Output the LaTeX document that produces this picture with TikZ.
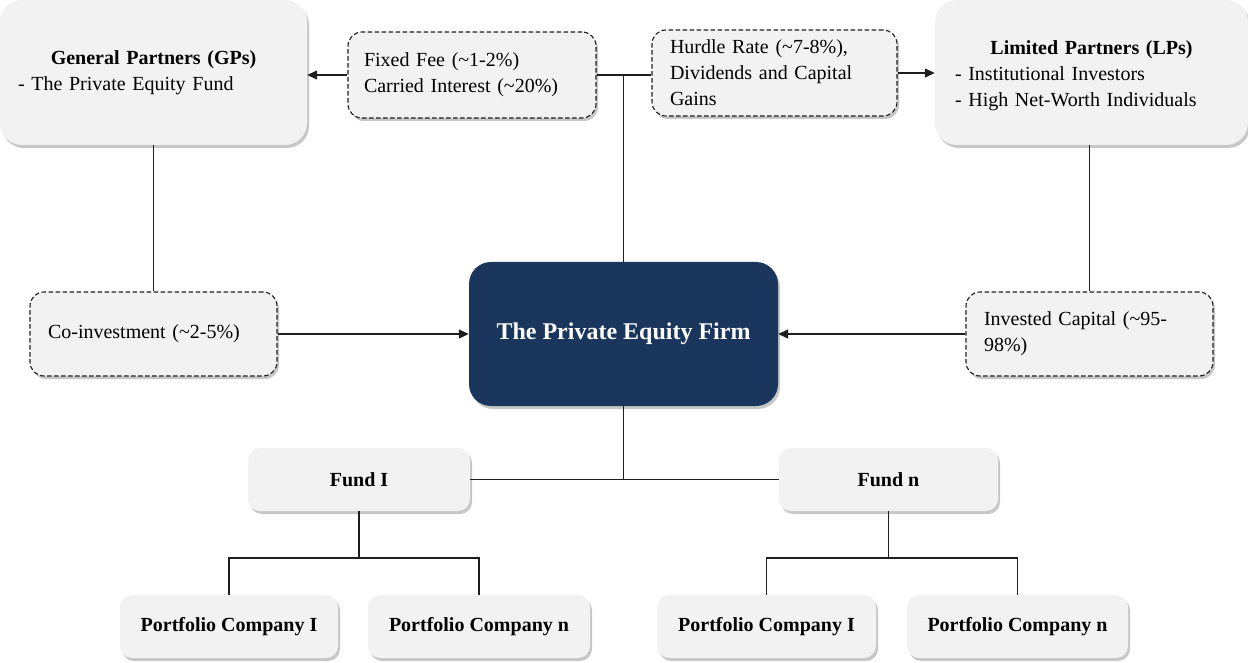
\documentclass[tikz,border=0pt]{standalone}
\usepackage{fontspec}
\setmainfont{Liberation Serif}
\usetikzlibrary{arrows.meta,shadows}
\definecolor{boxgray}{HTML}{F2F2F2}
\definecolor{navy}{HTML}{1A365D}
\definecolor{linec}{HTML}{1E1E1E}
\begin{document}
\begin{tikzpicture}[x=1pt,y=-1pt,
  shad/.style={drop shadow={shadow xshift=2pt,shadow yshift=-3pt,fill=black,opacity=0.22}},
  bigbox/.style={shad,fill=boxgray,rounded corners=22pt,inner sep=0pt,align=left,
     font=\fontsize{20}{26}\selectfont},
  dashbox/.style={shad,fill=boxgray,draw=linec,line width=1.1pt,dash pattern=on 4.5pt off 2.5pt,
     rounded corners=14pt,inner ysep=0pt,align=left,font=\fontsize{20}{26}\selectfont},
  smallbox/.style={shad,fill=boxgray,rounded corners=12pt,minimum height=63pt,inner sep=0pt,
     font=\fontsize{20}{26}\selectfont\bfseries},
  firmbox/.style={shad,fill=navy,rounded corners=22pt,minimum width=309pt,minimum height=144pt,
     text=white,font=\fontsize{24}{30}\selectfont\bfseries},
  conn/.style={draw=linec,line width=1.3pt},
  arr/.style={conn,-{Triangle[length=10pt,width=9pt]}}]
\useasboundingbox (0,0) rectangle (1248,663);

% top big boxes
\node[bigbox,minimum width=307pt,minimum height=145pt,text width=271pt] (gp) at (153.5,72.5)
  {\makebox[271pt][c]{\bfseries General Partners (GPs)}\\- The Private Equity Fund};
\node[bigbox,minimum width=313pt,minimum height=145pt,text width=273pt] (lp) at (1091.5,72.5)
  {\rule{0pt}{20pt}\makebox[273pt][c]{\bfseries Limited Partners (LPs)}\\- Institutional Investors\\- High Net-Worth Individuals};

% dashed label boxes
\node[dashbox,minimum width=248pt,minimum height=86pt,text width=216pt,inner xsep=16pt] (ff) at (472,75)
  {Fixed Fee (\textasciitilde1-2\%)\\Carried Interest (\textasciitilde20\%)};
\node[dashbox,minimum width=245pt,minimum height=86pt,text width=209pt,inner xsep=18pt] (hr) at (774.5,73)
  {Hurdle Rate (\textasciitilde7-8\%),\\Dividends and Capital\\Gains};
\node[dashbox,minimum width=247pt,minimum height=84pt,text width=211pt,inner xsep=18pt] (co) at (153.5,334)
  {Co-investment (\textasciitilde2-5\%)};
\node[dashbox,minimum width=247pt,minimum height=84pt,text width=211pt,inner xsep=18pt] (ic) at (1089.5,334)
  {Invested Capital (\textasciitilde95-\\98\%)};

% firm
\node[firmbox] (firm) at (623.5,334) {The Private Equity Firm};

% funds
\node[smallbox,minimum width=222pt] (f1) at (359,479.5) {Fund I};
\node[smallbox,minimum width=219pt] (fn) at (888.5,479.5) {Fund n};

% portfolio companies
\node[smallbox,minimum width=218pt] (p1) at (229,626.5) {Portfolio Company I};
\node[smallbox,minimum width=222pt] (p2) at (479,626.5) {Portfolio Company n};
\node[smallbox,minimum width=219pt] (p3) at (766.5,626.5) {Portfolio Company I};
\node[smallbox,minimum width=221pt] (p4) at (1017.5,626.5) {Portfolio Company n};

\coordinate (j1) at (359,558);
\coordinate (j2) at (888.5,558);

% connectors
\draw[arr] (ff.west) -- (ff.west -| gp.east);
\draw[conn] (ff.east) -- (ff.east -| hr.west);
\draw[conn] (firm.north) -- (firm.north |- ff.east);
\draw[arr] (hr.east) -- (hr.east -| lp.west);
\draw[conn] (gp.south) -- (co.north);
\draw[arr] (co.east) -- (firm.west);
\draw[conn] (ic.north) -- (ic.north |- lp.south);
\draw[arr] (ic.west) -- (firm.east);
\draw[conn] (firm.south) -- (firm.south |- f1.east);
\draw[conn] (f1.east) -- (fn.west);
\draw[conn] (f1.south) -- (j1);
\draw[conn] (p1.north) |- (j1) -| (p2.north);
\draw[conn] (fn.south) -- (j2);
\draw[conn] (p3.north) |- (j2) -| (p4.north);
\end{tikzpicture}
\end{document}
